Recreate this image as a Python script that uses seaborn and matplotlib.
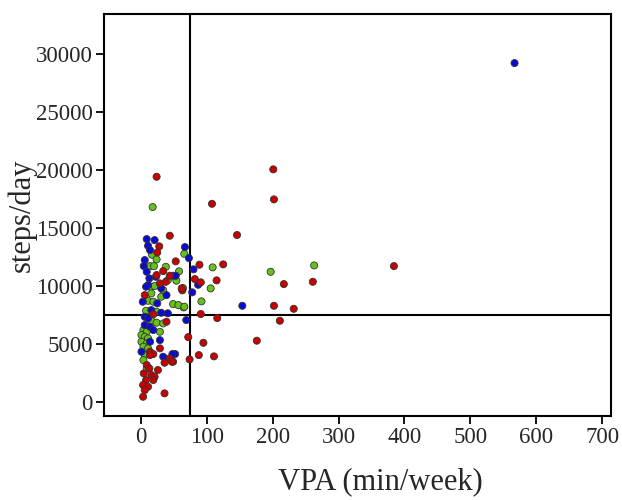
import numpy as np
import pandas as pd
import matplotlib
matplotlib.use("Agg")
import matplotlib.pyplot as plt
import seaborn as sns

# ==========================================
# DATA
# ==========================================
red_x = [201, 202, 108, 146, 89, 125, 384, 82, 115, 91, 217, 261, 63, 202, 232,
         91, 116, 211, 72, 95, 176, 88, 111, 74, 24, 44, 28, 25, 53, 34, 24, 44,
         38, 29, 62, 6, 19, 39, 29, 14, 19, 44, 49, 36, 9, 13, 26, 4.5, 16, 21,
         8, 19, 3.5, 11, 6, 3.5, 36, 47, 14]
red_y = [20060, 17470, 17090, 14400, 11840, 11870, 11720, 10600, 10490, 10320,
         10170, 10370, 9630, 8300, 8040, 7590, 7240, 7010, 5600, 5110, 5290, 4050,
         3940, 3680, 19420, 14340, 13420, 12900, 12130, 11290, 10950, 10890, 10370,
         10230, 9800, 9220, 7560, 6920, 4630, 4340, 4140, 3770, 3480, 3390, 3190,
         2900, 2760, 2470, 2330, 2180, 1900, 1900, 1470, 1320, 1030, 460, 750,
         3480, 4050]

blue_x = [567, 67, 73, 80, 87, 78, 154, 69, 9, 21, 11, 14, 6, 4.5, 9, 13, 23, 49,
          53, 11, 31, 8, 39, 3, 25, 16, 31, 41, 6, 11, 6, 14, 19, 14, 29, 1, 34,
          52, 48]
blue_y = [29220, 13360, 12410, 11440, 10110, 9460, 8300, 7070, 14050, 13960,
          13470, 13100, 12240, 11720, 11230, 10660, 10800, 10890, 10890, 10090,
          9800, 9940, 9220, 8650, 8510, 7930, 7700, 7650, 7350, 7210, 6640, 6490,
          6210, 5200, 5340, 4340, 3910, 4140, 4140]

green_x = [18, 66, 109, 263, 197, 106, 92, 65, 17, 24, 14, 20, 38, 58, 41, 54, 16,
           64, 21, 34, 16, 31, 11, 19, 49, 57, 66, 8, 24, 16, 24, 34, 4, 9, 29, 1,
           6, 11, 1, 9, 4, 11, 6, 4, 9]
green_y = [16810, 12780, 11610, 11780, 11230, 9800, 8680, 8160, 12700, 12300,
           11720, 11720, 11660, 11270, 10520, 10460, 9940, 9830, 10000, 9650, 9370,
           9080, 8730, 8650, 8450, 8360, 8220, 7870, 7790, 7010, 6840, 6780, 6210,
           6060, 6060, 5780, 5630, 5490, 5200, 5060, 4770, 4630, 4050, 3620, 2900]

VPA_CUT = 75
STEPS_CUT = 7500

# ==========================================
# PLOT
# ==========================================
df = pd.concat([
    pd.DataFrame({"VPA": green_x, "steps": green_y, "group": "green"}),
    pd.DataFrame({"VPA": blue_x, "steps": blue_y, "group": "blue"}),
    pd.DataFrame({"VPA": red_x, "steps": red_y, "group": "red"}),
], ignore_index=True)

sns.set_style("white")
plt.rcParams['font.family'] = ['Liberation Serif', 'DejaVu Serif']

fig = plt.figure(figsize=(6.22, 5.0), dpi=100)
ax = fig.add_axes([0.167, 0.168, 0.815, 0.804])

palette = {"red": "#c80000", "blue": "#0a0ad2", "green": "#66c21a"}
sns.scatterplot(data=df, x="VPA", y="steps", hue="group", palette=palette,
                s=26, edgecolor="#333333", linewidth=0.6, legend=False, ax=ax,
                zorder=3)

ax.axvline(VPA_CUT, color="black", linewidth=1.5, zorder=2)
ax.axhline(STEPS_CUT, color="black", linewidth=1.5, zorder=2)

ax.set_xlim(-56, 713)
ax.set_ylim(-1200, 33450)
ax.set_xticks(np.arange(0, 701, 100))
ax.set_yticks(np.arange(0, 30001, 5000))

for sp in ax.spines.values():
    sp.set_color("black")
    sp.set_linewidth(1.5)

ax.tick_params(axis="both", direction="out", length=6, width=1.3,
               color="black", labelsize=16.5, pad=2,
               bottom=True, left=True, top=False, right=False)

ax.set_xlabel("VPA (min/week)", fontsize=22)
ax.set_ylabel("steps/day", fontsize=22)
ax.xaxis.set_label_coords(0.546, -0.128)
ax.yaxis.set_label_coords(-0.132, 0.5)

plt.savefig("out.png", dpi=100)
plt.close()
